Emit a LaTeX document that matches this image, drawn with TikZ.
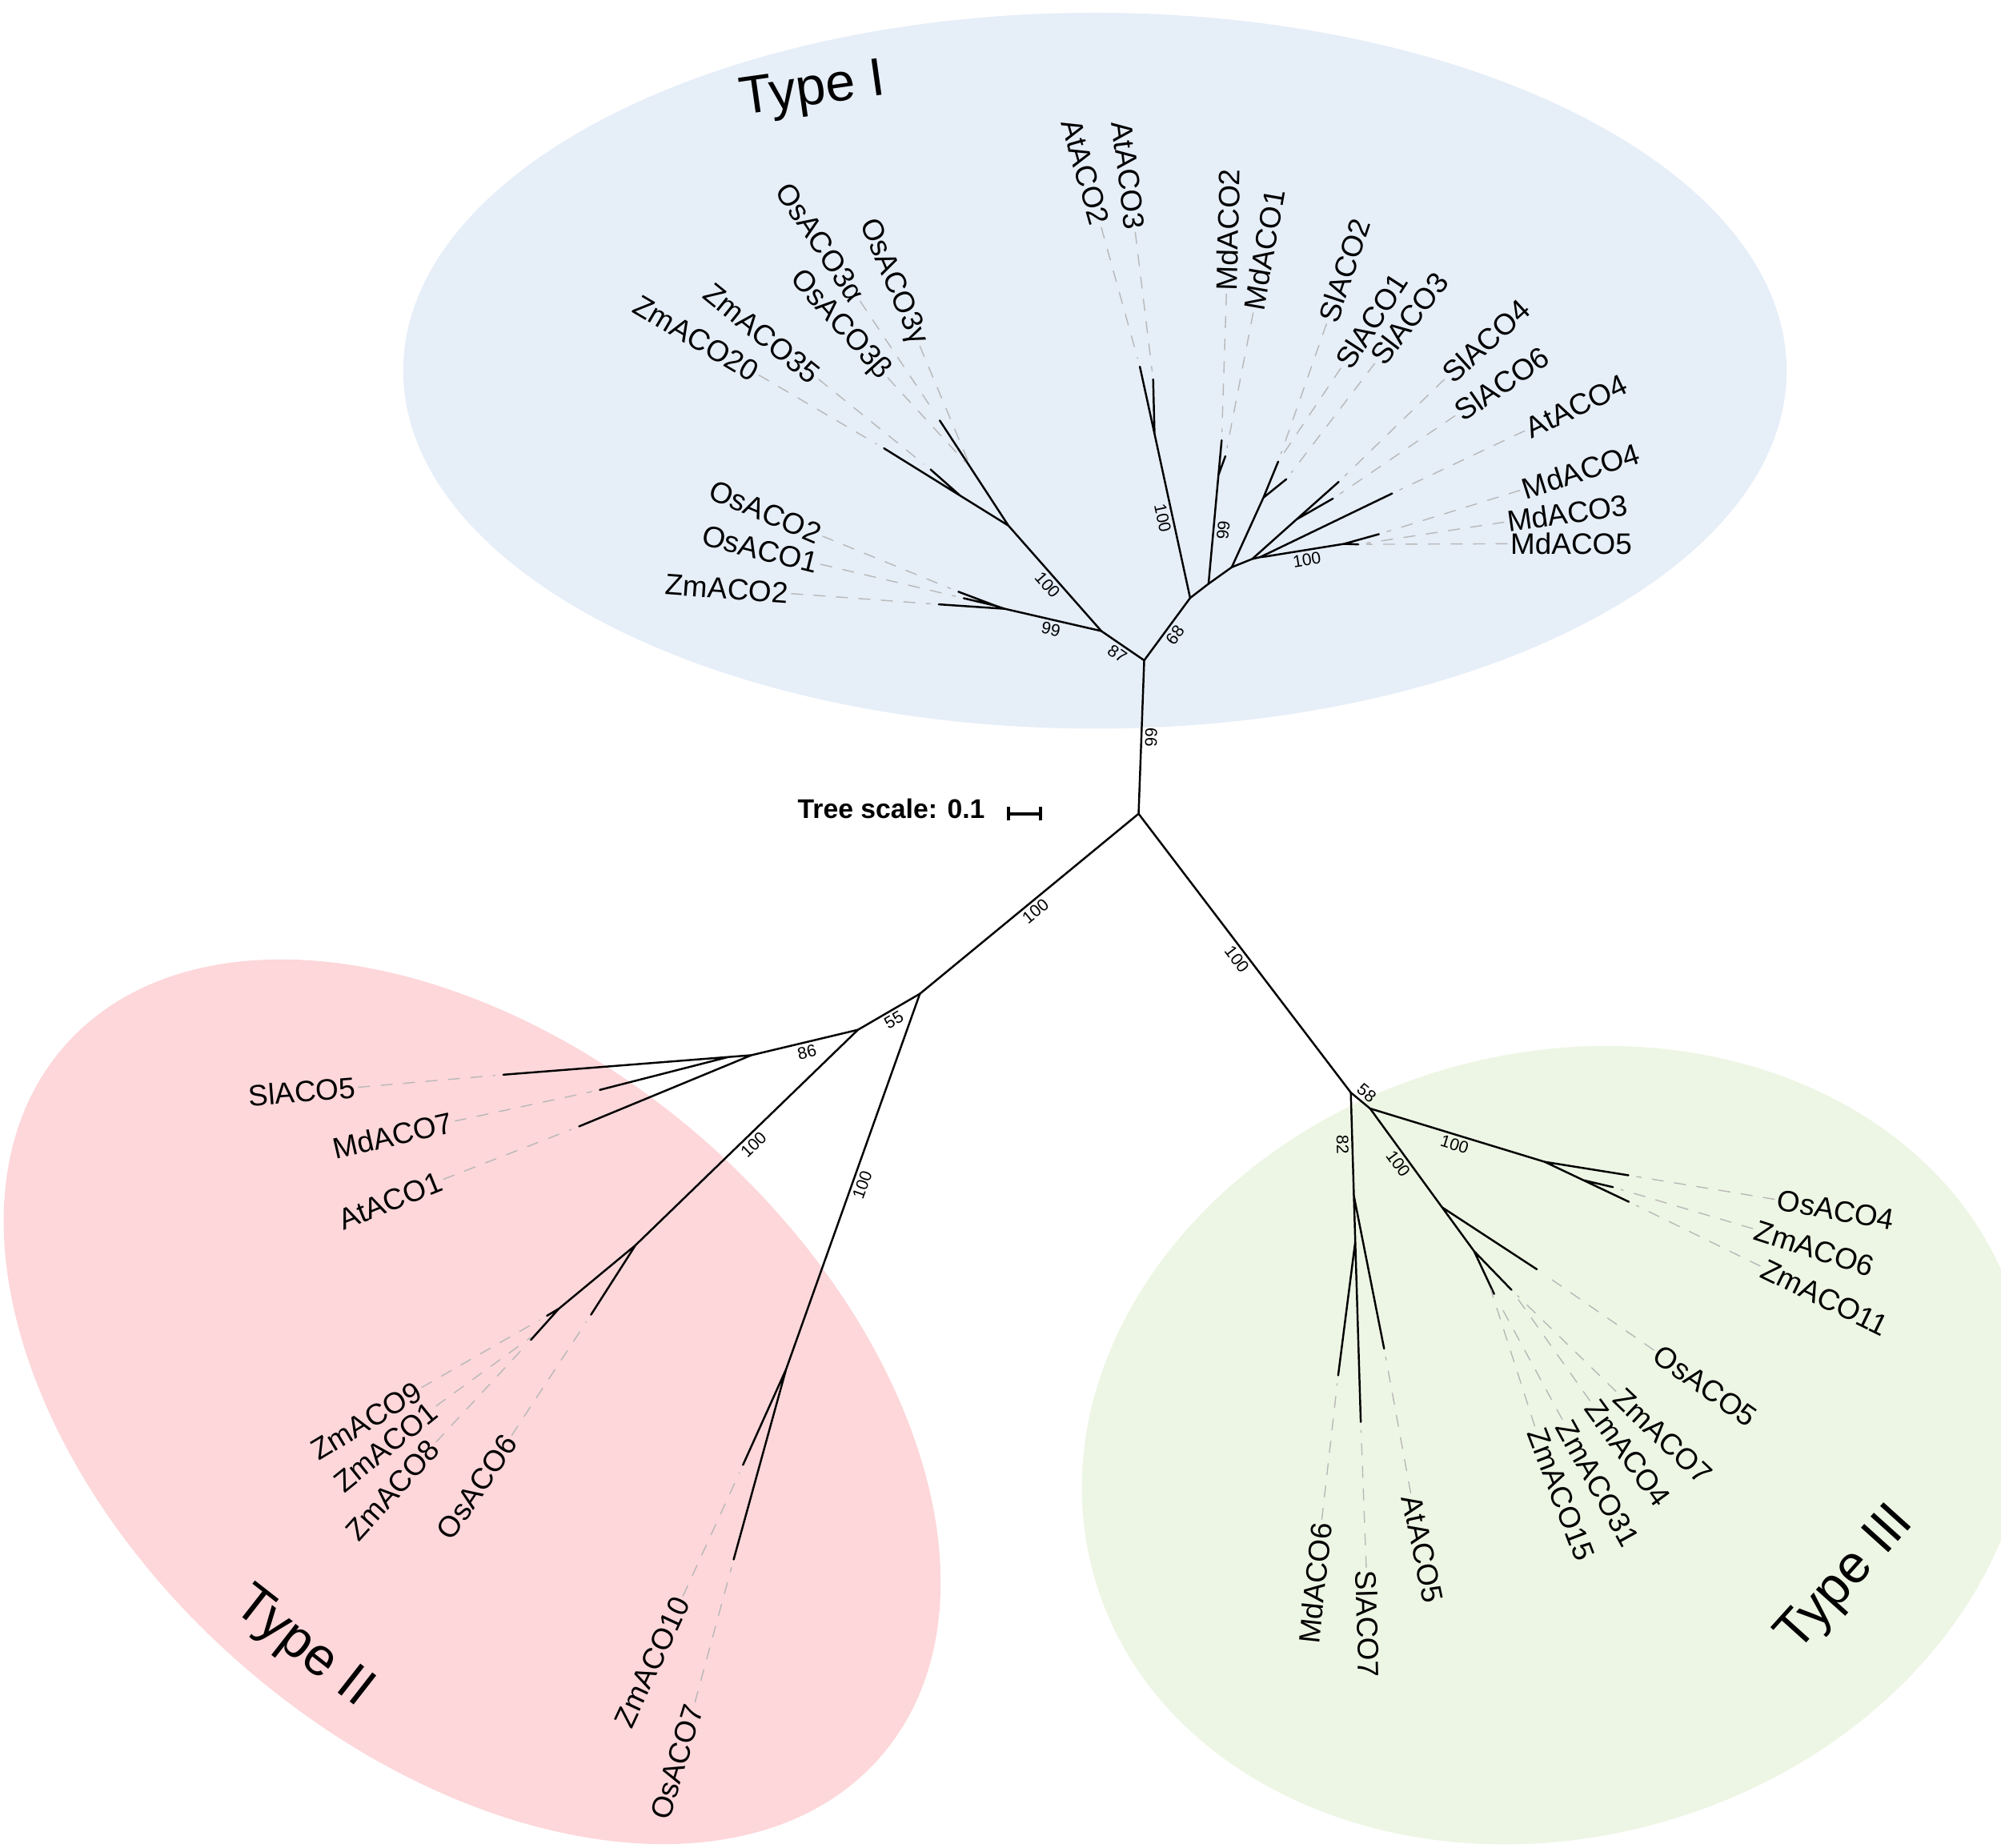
\documentclass[tikz,border=0pt]{standalone}
\usepackage{fontspec}
\setmainfont{Liberation Sans}
\usetikzlibrary{arrows.meta}
\definecolor{shadeI}{HTML}{E6EEF8}
\definecolor{shadeII}{HTML}{FDD7DA}
\definecolor{shadeIII}{HTML}{EDF6E4}
\definecolor{guidegray}{HTML}{B8B8B8}

\begin{document}
\begin{tikzpicture}[x=0.015944cm,y=-0.015944cm,line cap=round,line join=round,
  br/.style={draw=black,line width=.7pt},
  guide/.style={draw=guidegray,line width=.4pt,dash pattern=on 4pt off 4pt,shorten >=3pt},
  leaf/.style={font=\fontsize{10.5}{12}\selectfont,inner sep=1pt},
  bs/.style={font=\fontsize{6}{7}\selectfont,inner sep=1pt,midway,sloped},
  grp/.style={font=\fontsize{19}{22}\selectfont,inner sep=0pt}]
\useasboundingbox (0,0) rectangle (1568,1448);

% Shaded groups.
\fill[shadeI] (858,290.5) ellipse [x radius=542,y radius=280.5];
\fill[shadeII,rotate around={-41:(370,1098.5)}] (370,1098.5) ellipse [x radius=424,y radius=274];
\fill[shadeIII,rotate around={16:(1219,1132.5)}] (1219,1132.5) ellipse [x radius=376,y radius=307];
\node[grp,rotate=8] (typeI) at (637,72) {Type I};
\node[grp,rotate=-38] (typeII) at (237,1292) {Type II};
\node[grp,rotate=48] (typeIII) at (1447,1238) {Type III};

% Scale.
\node[font=\bfseries\fontsize{9.6}{11}\selectfont,anchor=east,inner sep=0pt] (scale) at (772.2,633.5) {Tree scale: 0.1};
\coordinate (sbA) at (789,637.7);
\coordinate (sbB) at (816.6,637.7);
\draw[line width=1.1pt,{Bar[width=4.7pt]}-{Bar[width=4.7pt]}] (sbA) -- (sbB);

% Type I clade.
\coordinate (R) at (892.2,637.7);
\coordinate (T1) at (896.6,517.5);
\coordinate (A) at (863,494.5);
\coordinate (B) at (790.2,411.9);
\coordinate (B2) at (752.4,388.4);
\coordinate (B3) at (761.1,367.3);
\coordinate (C) at (787.4,477.1);
\coordinate (C2) at (780.4,474.8);
\coordinate (D0) at (932.6,468.6);
\coordinate (E) at (904.7,340);
\coordinate (D1) at (947,457.5);
\coordinate (J1) at (954.8,372.2);
\coordinate (D2) at (965.2,444.5);
\coordinate (J2) at (990,390);
\coordinate (D3) at (981.3,438);
\coordinate (J3) at (1016,407);
\coordinate (D4) at (987.5,436.6);
\coordinate (D5) at (992.5,436);
\coordinate (F) at (1053.2,426.2);
\coordinate (tZm20) at (692.7,351.3);
\coordinate (tZm35) at (729.2,367.9);
\coordinate (tOs3a) at (736.4,329.5);
\coordinate (tOs2) at (751,463.7);
\coordinate (tOs1) at (755.2,468.8);
\coordinate (tZm2) at (735.6,473.6);
\coordinate (tAt2) at (893.2,287.3);
\coordinate (tAt3) at (903.6,297.3);
\coordinate (tMd2) at (957.3,345);
\coordinate (tMd1) at (960.2,357.5);
\coordinate (tSl2) at (1001.6,361.7);
\coordinate (tSl3) at (1008,375.5);
\coordinate (tSl4) at (1049,377.6);
\coordinate (tSl6) at (1044.5,390.7);
\coordinate (tAt4) at (1090.9,386.7);
\coordinate (tMd5) at (1064.4,426.6);
\coordinate (tMd4) at (1080.5,418.6);
\draw[br] (R) -- (T1) node[bs,below] (bs99a) {99};
\draw[br] (T1) -- (A) node[bs,below] (bs87) {87};
\draw[br] (A) -- (B) node[bs,below] (bs100a) {100};
\draw[br] (A) -- (C) node[bs,below] (bs99b) {99};
\draw[br] (C) -- (tZm2) (C) -- (C2) -- (tOs2) (C2) -- (tOs1);
\draw[br] (B) -- (tZm20) (B2) -- (tZm35) (B) -- (tOs3a);
\draw[br] (T1) -- (D0) node[bs,below] (bs68) {68};
\draw[br] (D0) -- (E) node[bs,below] (bs100b) {100};
\draw[br] (E) -- (tAt2) (E) -- (tAt3);
\draw[br] (D0) -- (D1) -- (D2) -- (D3) -- (D4) -- (D5);
\draw[br] (D1) -- (J1) node[bs,below] (bs99c) {99};
\draw[br] (J1) -- (tMd2) (J1) -- (tMd1);
\draw[br] (D2) -- (J2) -- (tSl2) (J2) -- (tSl3);
\draw[br] (D3) -- (J3) -- (tSl4) (J3) -- (tSl6);
\draw[br] (D4) -- (tAt4);
\draw[br] (D5) -- (F) node[bs,below] (bs100c) {100};
\draw[br] (F) -- (tMd5) (F) -- (tMd4);
\foreach \nm/\px/\py/\ang/\an/\tp/\txt in {
  zmaco20/594.8/294/-30.5/east/tZm20/ZmACO20,
  zmaco35/641.6/297.3/-39/east/tZm35/ZmACO35,
  osaco3b/695.6/296/-48/east/B3/OsACO3β,
  osaco3a/674/236/-56.3/east/tOs3a/OsACO3α,
  osaco3g/720.8/271.2/-67/east/B3/OsACO3γ,
  osaco2/644.6/420.2/-23/east/tOs2/OsACO2,
  osaco1/643.2/442.2/-14/east/tOs1/OsACO1,
  zmaco2/620.2/465.2/-4.2/east/tZm2/ZmACO2,
  ataco2/863/178.2/-74/east/tAt2/AtACO2,
  ataco3/889.6/182/-83/east/tAt3/AtACO3,
  mdaco2/961/230.3/88.5/west/tMd2/MdACO2,
  mdaco1/982/245.2/80/west/tMd1/MdACO1,
  slaco2/1039.4/253.9/71.5/west/tSl2/SlACO2,
  slaco1/1050.6/288.6/57/west/tSl2/SlACO1,
  slaco3/1077.2/284.9/52.5/west/tSl3/SlACO3,
  slaco4/1131.8/297.3/42.5/west/tSl4/SlACO4,
  slaco6/1140.2/325.8/34.5/west/tSl6/SlACO6,
  ataco4/1194.6/337.7/25.5/west/tAt4/AtACO4,
  mdaco4/1190.9/384.3/17.7/west/tMd4/MdACO4,
  mdaco3/1178.5/409.2/8/west/tMd5/MdACO3,
  mdaco5/1181/426.1/0/west/tMd5/MdACO5}
{\node[leaf,rotate=\ang,anchor=\an] (\nm) at (\px,\py) {\txt};
 \draw[guide] (\nm.\an) -- (\tp);}

% Type II clade.
\coordinate (T2) at (720.8,778.8);
\coordinate (G) at (672.3,807);
\coordinate (K) at (588.8,826.9);
\coordinate (K2) at (570.8,828.3);
\coordinate (J) at (498,975.8);
\coordinate (L) at (438,1025.5);
\coordinate (H) at (616,1073);
\coordinate (tSl5) at (394.4,842.2);
\coordinate (tMd7) at (470,854.1);
\coordinate (tAt1) at (453.8,882.7);
\coordinate (tZm9) at (428.6,1031.1);
\coordinate (tZm1) at (421.3,1044.1);
\coordinate (tZm8) at (416,1050);
\coordinate (tOs6) at (463.1,1030.3);
\coordinate (tZm10) at (582.2,1148);
\coordinate (tOs7) at (574.9,1222.1);
\draw[br] (R) -- (T2) node[bs,below] (bs100d) {100};
\draw[br] (T2) -- (G) node[bs,below] (bs55) {55};
\draw[br] (G) -- (K) node[bs,below] (bs86) {86};
\draw[br] (K) -- (tSl5) (K2) -- (tMd7) (K) -- (tAt1);
\draw[br] (G) -- (J) node[bs,below] (bs100e) {100};
\draw[br] (J) -- (L) -- (tZm8) (L) -- (tZm9) (J) -- (tOs6);
\draw[br] (T2) -- (H) node[bs,below] (bs100f) {100};
\draw[br] (H) -- (tZm10) (H) -- (tOs7);
\foreach \nm/\px/\py/\ang/\an/\tp/\txt in {
  slaco5/281/852/4.5/east/tSl5/SlACO5,
  mdaco7/356.6/878.5/13/east/tMd7/MdACO7,
  ataco1/347.6/924.1/22/east/tAt1/AtACO1,
  zmaco9/330.6/1087.2/31/east/tZm9/ZmACO9,
  zmaco1/341.8/1101.8/39/east/tZm1/ZmACO1,
  zmaco8/341.8/1130/48/east/tZm8/ZmACO8,
  osaco6/401/1124.8/56/east/tOs6/OsACO6,
  zmaco10/535.2/1250.7/65/east/tZm10/ZmACO10,
  osaco7/544.6/1333.9/73/east/tOs7/OsACO7}
{\node[leaf,rotate=\ang,anchor=\an] (\nm) at (\px,\py) {\txt};
 \draw[guide] (\nm.\an) -- (\tp);}

% Type III clade.
\coordinate (T3) at (1058.5,856.2);
\coordinate (N) at (1073.6,868.7);
\coordinate (M) at (1060.9,937);
\coordinate (M2) at (1062,973);
\coordinate (P1) at (1210.5,910.5);
\coordinate (P2) at (1240.9,924.9);
\coordinate (Q1) at (1130,946.1);
\coordinate (R1) at (1155.1,980.5);
\coordinate (tOs4) at (1276,921);
\coordinate (tZm6) at (1263.9,930.3);
\coordinate (tZm11) at (1276.4,941.8);
\coordinate (tOs5) at (1204.3,994.7);
\coordinate (tZm7) at (1184.4,1010.8);
\coordinate (tZm31) at (1170.8,1014);
\coordinate (tZm15) at (1166.1,1004);
\coordinate (tMd6) at (1048.6,1077.8);
\coordinate (tSl7) at (1066.3,1114.3);
\coordinate (tAt5) at (1084.6,1056.9);
\draw[br] (R) -- (T3) node[bs,below] (bs100g) {100};
\draw[br] (T3) -- (N) node[bs,above] (bs58) {58};
\draw[br] (T3) -- (M) node[bs,below] (bs82) {82};
\draw[br] (M) -- (tSl7) (M) -- (tAt5) (M2) -- (tMd6);
\draw[br] (N) -- (P1) node[bs,below] (bs100h) {100};
\draw[br] (P1) -- (tOs4) (P1) -- (tZm11) (P2) -- (tZm6);
\draw[br] (N) -- (Q1) node[bs,below] (bs100i) {100};
\draw[br] (Q1) -- (R1) -- (tZm31) (R1) -- (tZm7) (Q1) -- (tOs5);
\foreach \nm/\px/\py/\ang/\an/\tp/\txt in {
  osaco4/1390.4/939.8/-10/west/tOs4/OsACO4,
  zmaco6/1373.4/962.8/-18/west/tZm6/ZmACO6,
  zmaco11/1379.2/992.1/-26/west/tZm11/ZmACO11,
  osaco5/1296/1058/-35/west/tOs5/OsACO5,
  zmaco7/1266.2/1090.3/-43.5/west/tZm7/ZmACO7,
  zmaco4/1245.8/1097.6/-54/west/tZm7/ZmACO4,
  zmaco31/1224.2/1112.3/-61/west/tZm31/ZmACO31,
  zmaco15/1202.6/1117.5/-69/west/tZm15/ZmACO15,
  ataco5/1105.4/1169.8/-78/west/tAt5/AtACO5,
  slaco7/1070.6/1228.3/-88.5/west/tSl7/SlACO7,
  mdaco6/1035.8/1190.7/84/east/tMd6/MdACO6}
{\node[leaf,rotate=\ang,anchor=\an] (\nm) at (\px,\py) {\txt};
 \draw[guide] (\nm.\an) -- (\tp);}
\end{tikzpicture}
\end{document}
